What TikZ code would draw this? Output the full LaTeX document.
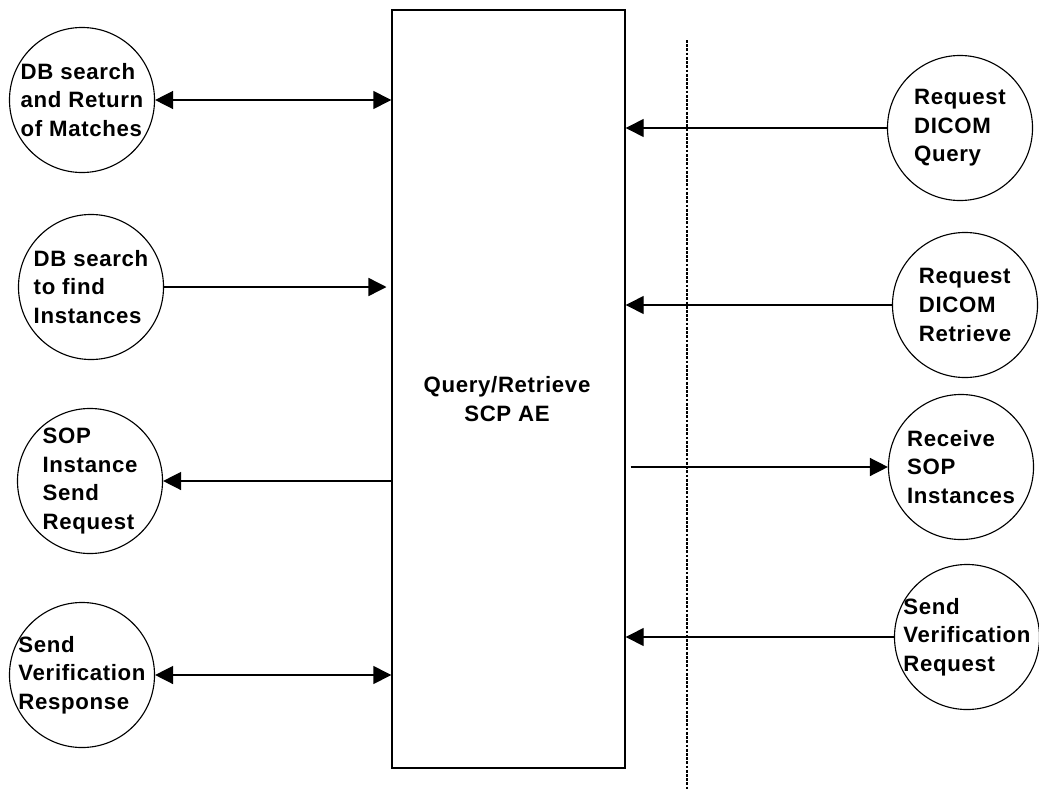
\documentclass[tikz,border=0pt]{standalone}
\usepackage{fontspec}
\setmainfont{Liberation Sans}[LetterSpace=3]
\usetikzlibrary{arrows.meta}
\begin{document}
\begin{tikzpicture}[x=0.025cm,y=-0.025cm,
  proc/.style={circle,draw,line width=0.8pt,minimum size=3.625cm,inner sep=-0.5cm,
    align=left,font=\bfseries\fontsize{15.8}{20.3}\selectfont},
  mainbox/.style={draw,line width=1pt,minimum width=233*0.025cm,minimum height=758*0.025cm,inner sep=0pt},
  conn/.style={line width=1pt,-{Triangle[length=4.5mm,width=4.5mm]}},
  biconn/.style={line width=1pt,{Triangle[length=4.5mm,width=4.5mm]}-{Triangle[length=4.5mm,width=4.5mm]}},
  boundary/.style={line width=0.8pt,dash pattern=on 2pt off 1pt}
]
\useasboundingbox[fill=white] (0,0) rectangle (1039,789);
\node[mainbox] (box) at (508.5,389) {};
\node[font=\bfseries\fontsize{15.8}{20}\selectfont,align=center] (lbl) at (507,399) {Query/Retrieve\\SCP AE};
\coordinate (dtop) at (687,40);
\coordinate (dbot) at (687,789);
\draw[boundary] (dtop) -- (dbot);

\node[proc] (l1) at (82,100) {DB search\\and Return\\of Matches};
\node[proc] (l2) at (91,287) {DB search\\to find\\Instances};
\node[proc] (l3) at (90,481) {SOP\\Instance\\Send\\Request};
\node[proc] (l4) at (82,675) {Send\\Verification\\Response};

\node[proc] (r1) at (960,128) {Request\\DICOM\\Query};
\node[proc] (r2) at (965,305) {Request\\DICOM\\Retrieve};
\node[proc] (r3) at (961,467) {Receive\\SOP\\Instances};
\node[proc] (r4) at (967,637) {Send\\Verification\\Request};

\draw[biconn] (l1.east) -- (l1.east -| box.west);
\draw[conn] (l2.east) -- ([xshift=-0.12cm]l2.east -| box.west);
\draw[conn] (l3.east -| box.west) -- (l3.east);
\draw[biconn] (l4.east) -- (l4.east -| box.west);

\draw[conn] (r1.west) -- (r1.west -| box.east);
\draw[conn] (r2.west) -- (r2.west -| box.east);
\draw[conn] ([xshift=0.12cm]r3.west -| box.east) -- (r3.west);
\draw[conn] (r4.west) -- (r4.west -| box.east);
\end{tikzpicture}
\end{document}
